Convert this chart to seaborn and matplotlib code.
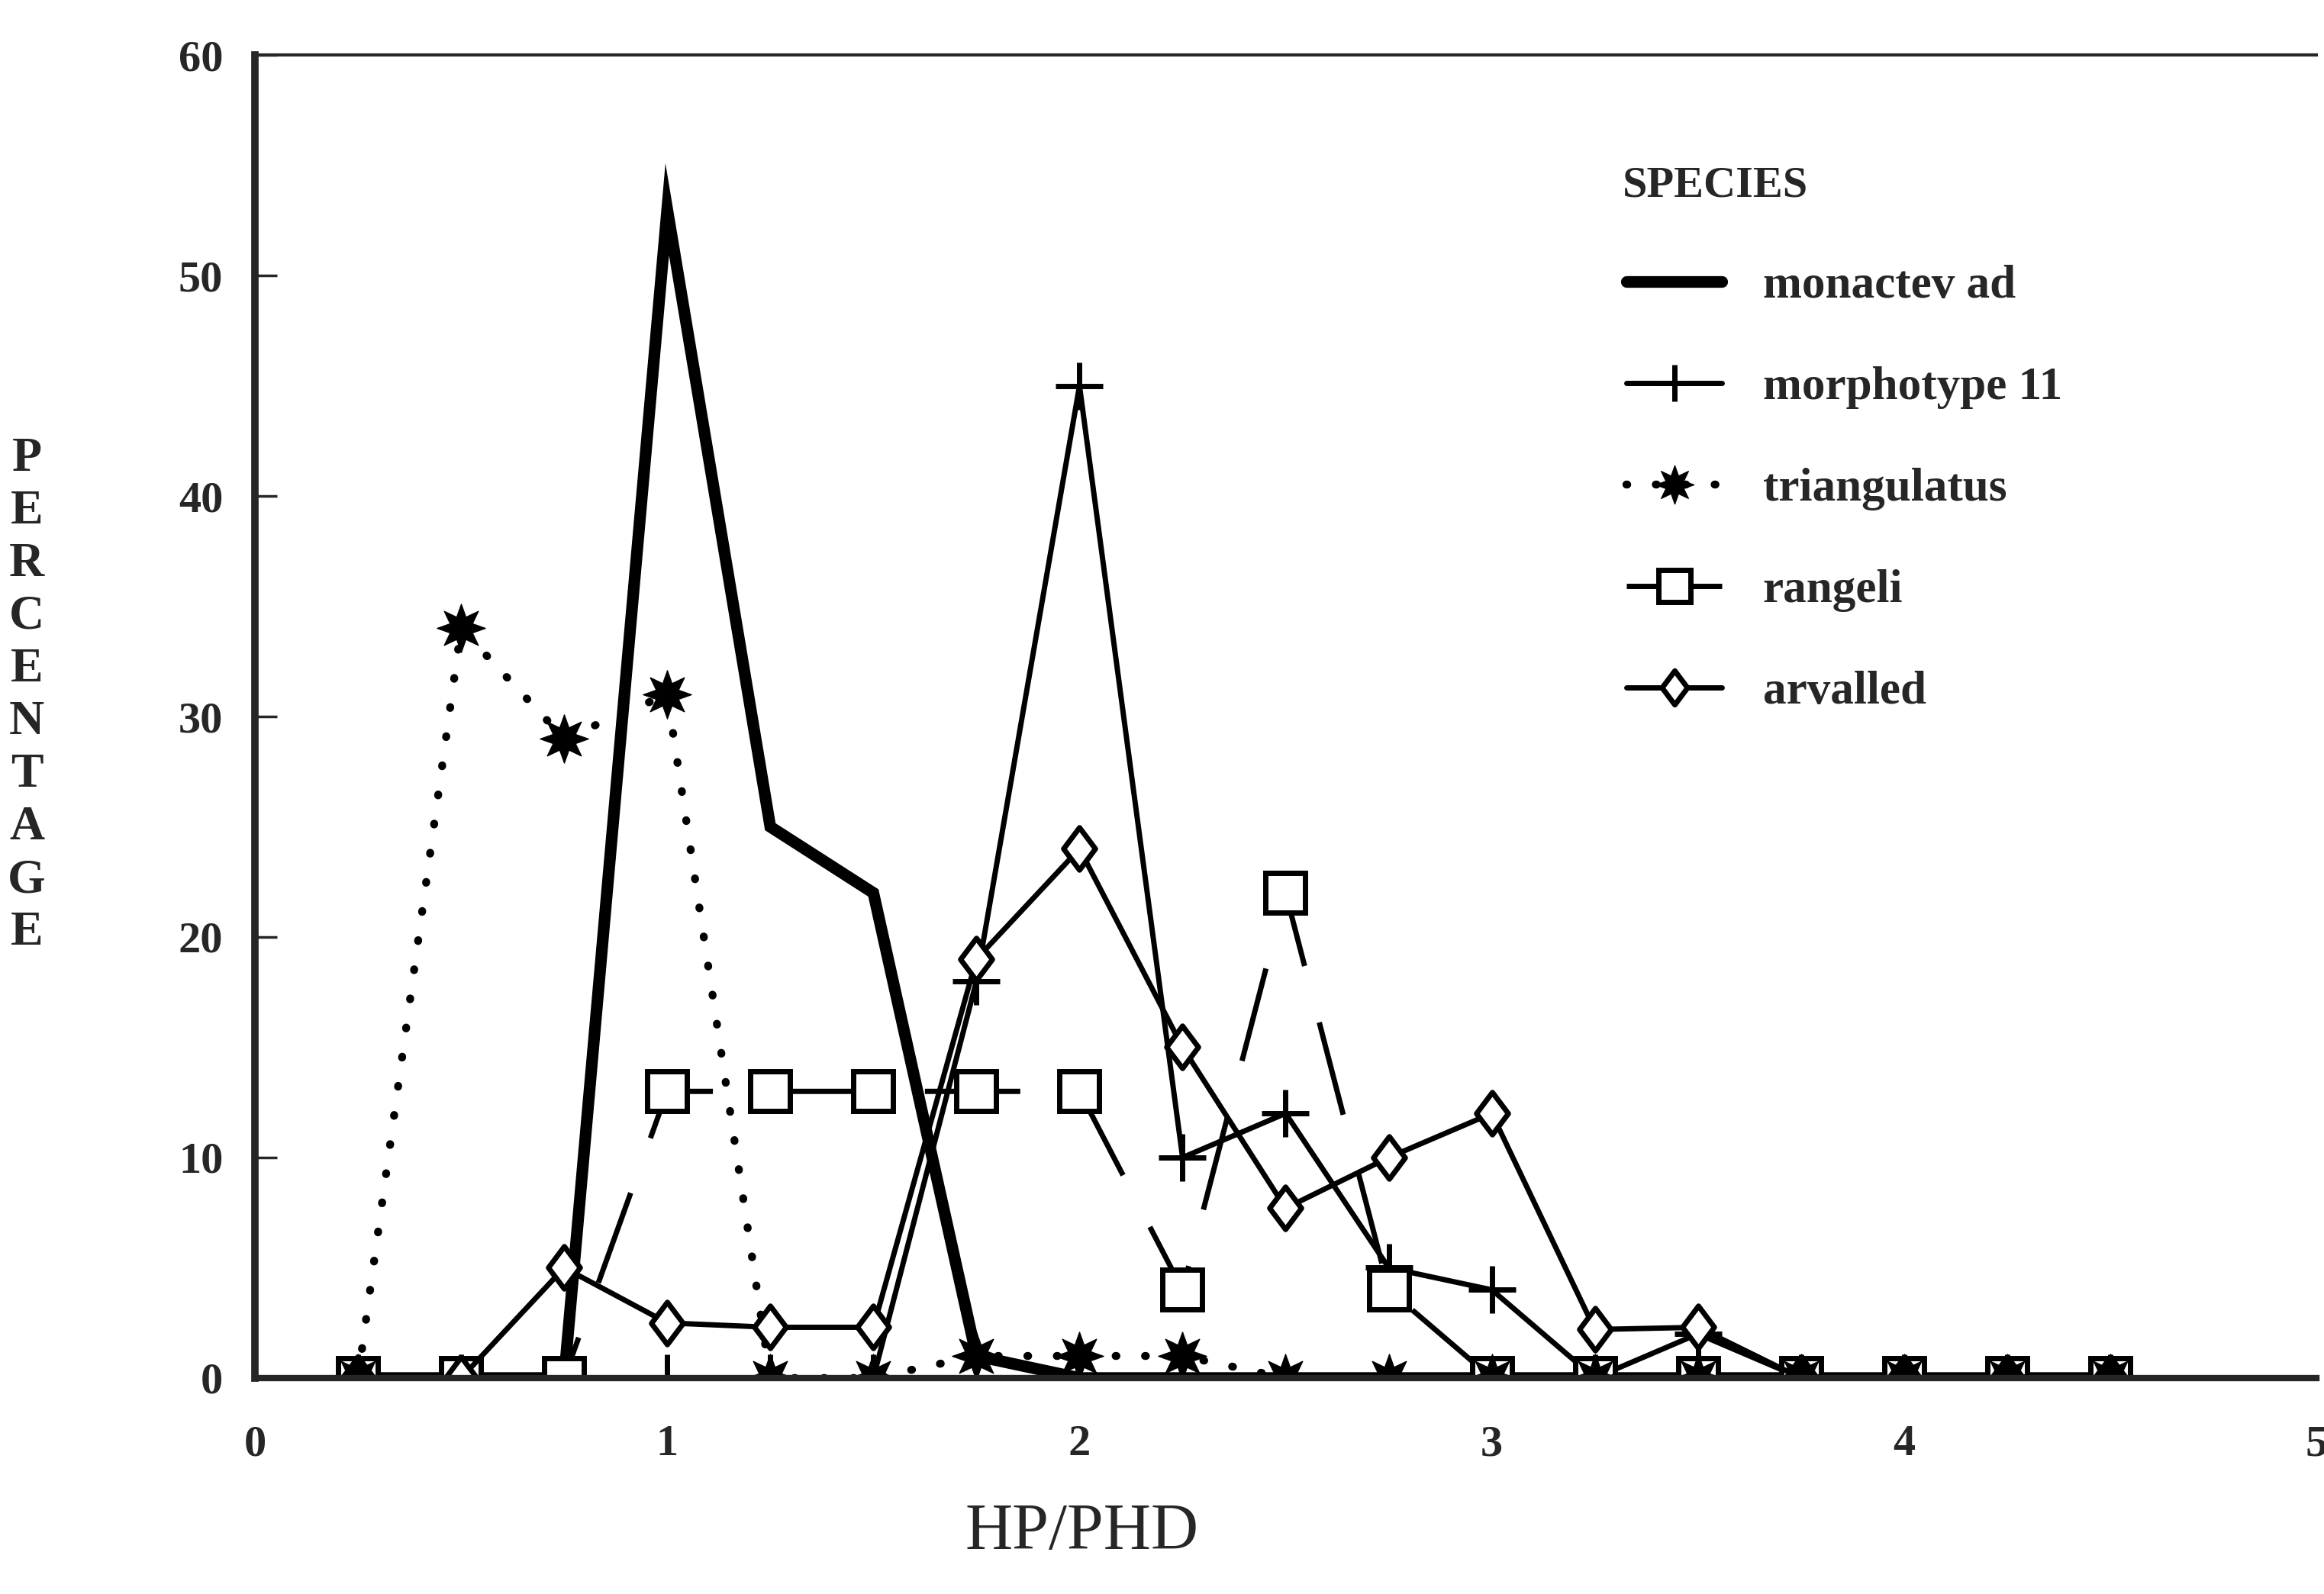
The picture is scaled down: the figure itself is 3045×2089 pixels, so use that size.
import matplotlib
matplotlib.use("Agg")
import matplotlib.pyplot as plt
from matplotlib.path import Path
import seaborn as sns

# HP/PHD classes and percentage per species
hp_phd = [0.25, 0.5, 0.75, 1.0, 1.25, 1.5, 1.75, 2.0, 2.25, 2.5,
          2.75, 3.0, 3.25, 3.5, 3.75, 4.0, 4.25, 4.5]
monactev = [0, 0, 0, 53, 25, 22, 1, 0, 0, 0, 0, 0, 0, 0, 0, 0, 0, 0]
morphotype = [0, 0, 0, 0, 0, 0, 18, 45, 10, 12, 5, 4, 0, 2, 0, 0, 0, 0]
triangulatus = [0, 34, 29, 31, 0, 0, 1, 1, 1, 0, 0, 0, 0, 0, 0, 0, 0, 0]
rangeli = [0, 0, 0, 13, 13, 13, 13, 13, 4, 22, 4, 0, 0, 0, 0, 0, 0, 0]
arvalled = [0, 0, 5, 2.5, 2.3, 2.3, 19, 24, 15, 7.7, 10, 12, 2.2, 2.3, 0, 0, 0, 0]

labels = ["monactev ad", "morphotype 11", "triangulatus", "rangeli", "arvalled"]
x_ticks = [0, 1, 2, 3, 4, 5]
y_ticks = [0, 10, 20, 30, 40, 50, 60]

sns.set_style("ticks")
plt.rcParams['font.family'] = ['Liberation Serif', 'DejaVu Serif']

# slightly squat diamond like the original symbol
diamond = Path([(0, 1), (0.75, 0), (0, -1), (-0.75, 0), (0, 1)],
               [Path.MOVETO, Path.LINETO, Path.LINETO, Path.LINETO, Path.CLOSEPOLY])

fig = plt.figure(figsize=(30.45, 20.89), dpi=100)
ax = fig.add_axes([0.1097, 0.1355, 0.887, 0.830])

common = dict(ax=ax, color='black', errorbar=None, legend=False)

sns.lineplot(x=hp_phd, y=monactev, lw=11, solid_joinstyle='miter',
             label=labels[0], **common)
sns.lineplot(x=hp_phd, y=morphotype, lw=5, marker='+', ms=44, mew=5,
             mec='black', label=labels[1], **common)
sns.lineplot(x=hp_phd, y=rangeli, lw=5, linestyle=(0, (18, 11)),
             marker='s', ms=38, mfc='white', mec='black', mew=5,
             label=labels[3], **common)
sns.lineplot(x=hp_phd, y=arvalled, lw=5, marker=diamond, ms=40,
             mfc='white', mec='black', mew=5, label=labels[4], **common)
sns.lineplot(x=hp_phd, y=triangulatus, lw=7.5, linestyle=(0, (0.1, 3.6)),
             dash_capstyle='round', marker=(8, 1, 0), ms=46,
             mfc='black', mec='black', label=labels[2], **common)

ax.set_xlim(0, 5)
ax.set_ylim(0, 60)
ax.set_xticks(x_ticks)
ax.set_yticks(y_ticks)
ax.set_xticklabels([str(t) for t in x_ticks], fontsize=42, fontweight='bold')
ax.set_yticklabels([str(t) for t in y_ticks], fontsize=42, fontweight='bold')
ax.tick_params(axis='y', direction='in', length=21, width=2.5, pad=30)
ax.tick_params(axis='x', length=0, pad=44)
ax.set_xlabel('')
ax.set_ylabel('')

ax.spines['right'].set_visible(False)
ax.spines['left'].set_linewidth(7)
ax.spines['bottom'].set_linewidth(6)
ax.spines['top'].set_linewidth(3)

# legend in the species order of the original, title as a separate text
handles, labs = ax.get_legend_handles_labels()
order = [labs.index(l) for l in labels]
ax.legend([handles[i] for i in order], [labs[i] for i in order],
          loc='upper left', bbox_to_anchor=(0.645, 0.873),
          frameon=False, prop={'weight': 'bold', 'size': 44},
          labelspacing=1.26, handlelength=2.05, handletextpad=0.87,
          markerscale=0.8)
ax.text(0.6635, 0.901, 'SPECIES', transform=ax.transAxes, ha='left',
        va='center', fontsize=42, fontweight='bold')

# x axis title
fig.text(0.4654, 0.038, 'HP/PHD', ha='center', va='center', fontsize=62)

# stacked y axis title
word = 'PERCENTAGE'
for i, ch in enumerate(word):
    fig.text(0.0115, 0.712 - i * 0.03306, ch, ha='center', va='center',
             fontsize=46, fontweight='bold')

fig.savefig('out.png', dpi=100)
